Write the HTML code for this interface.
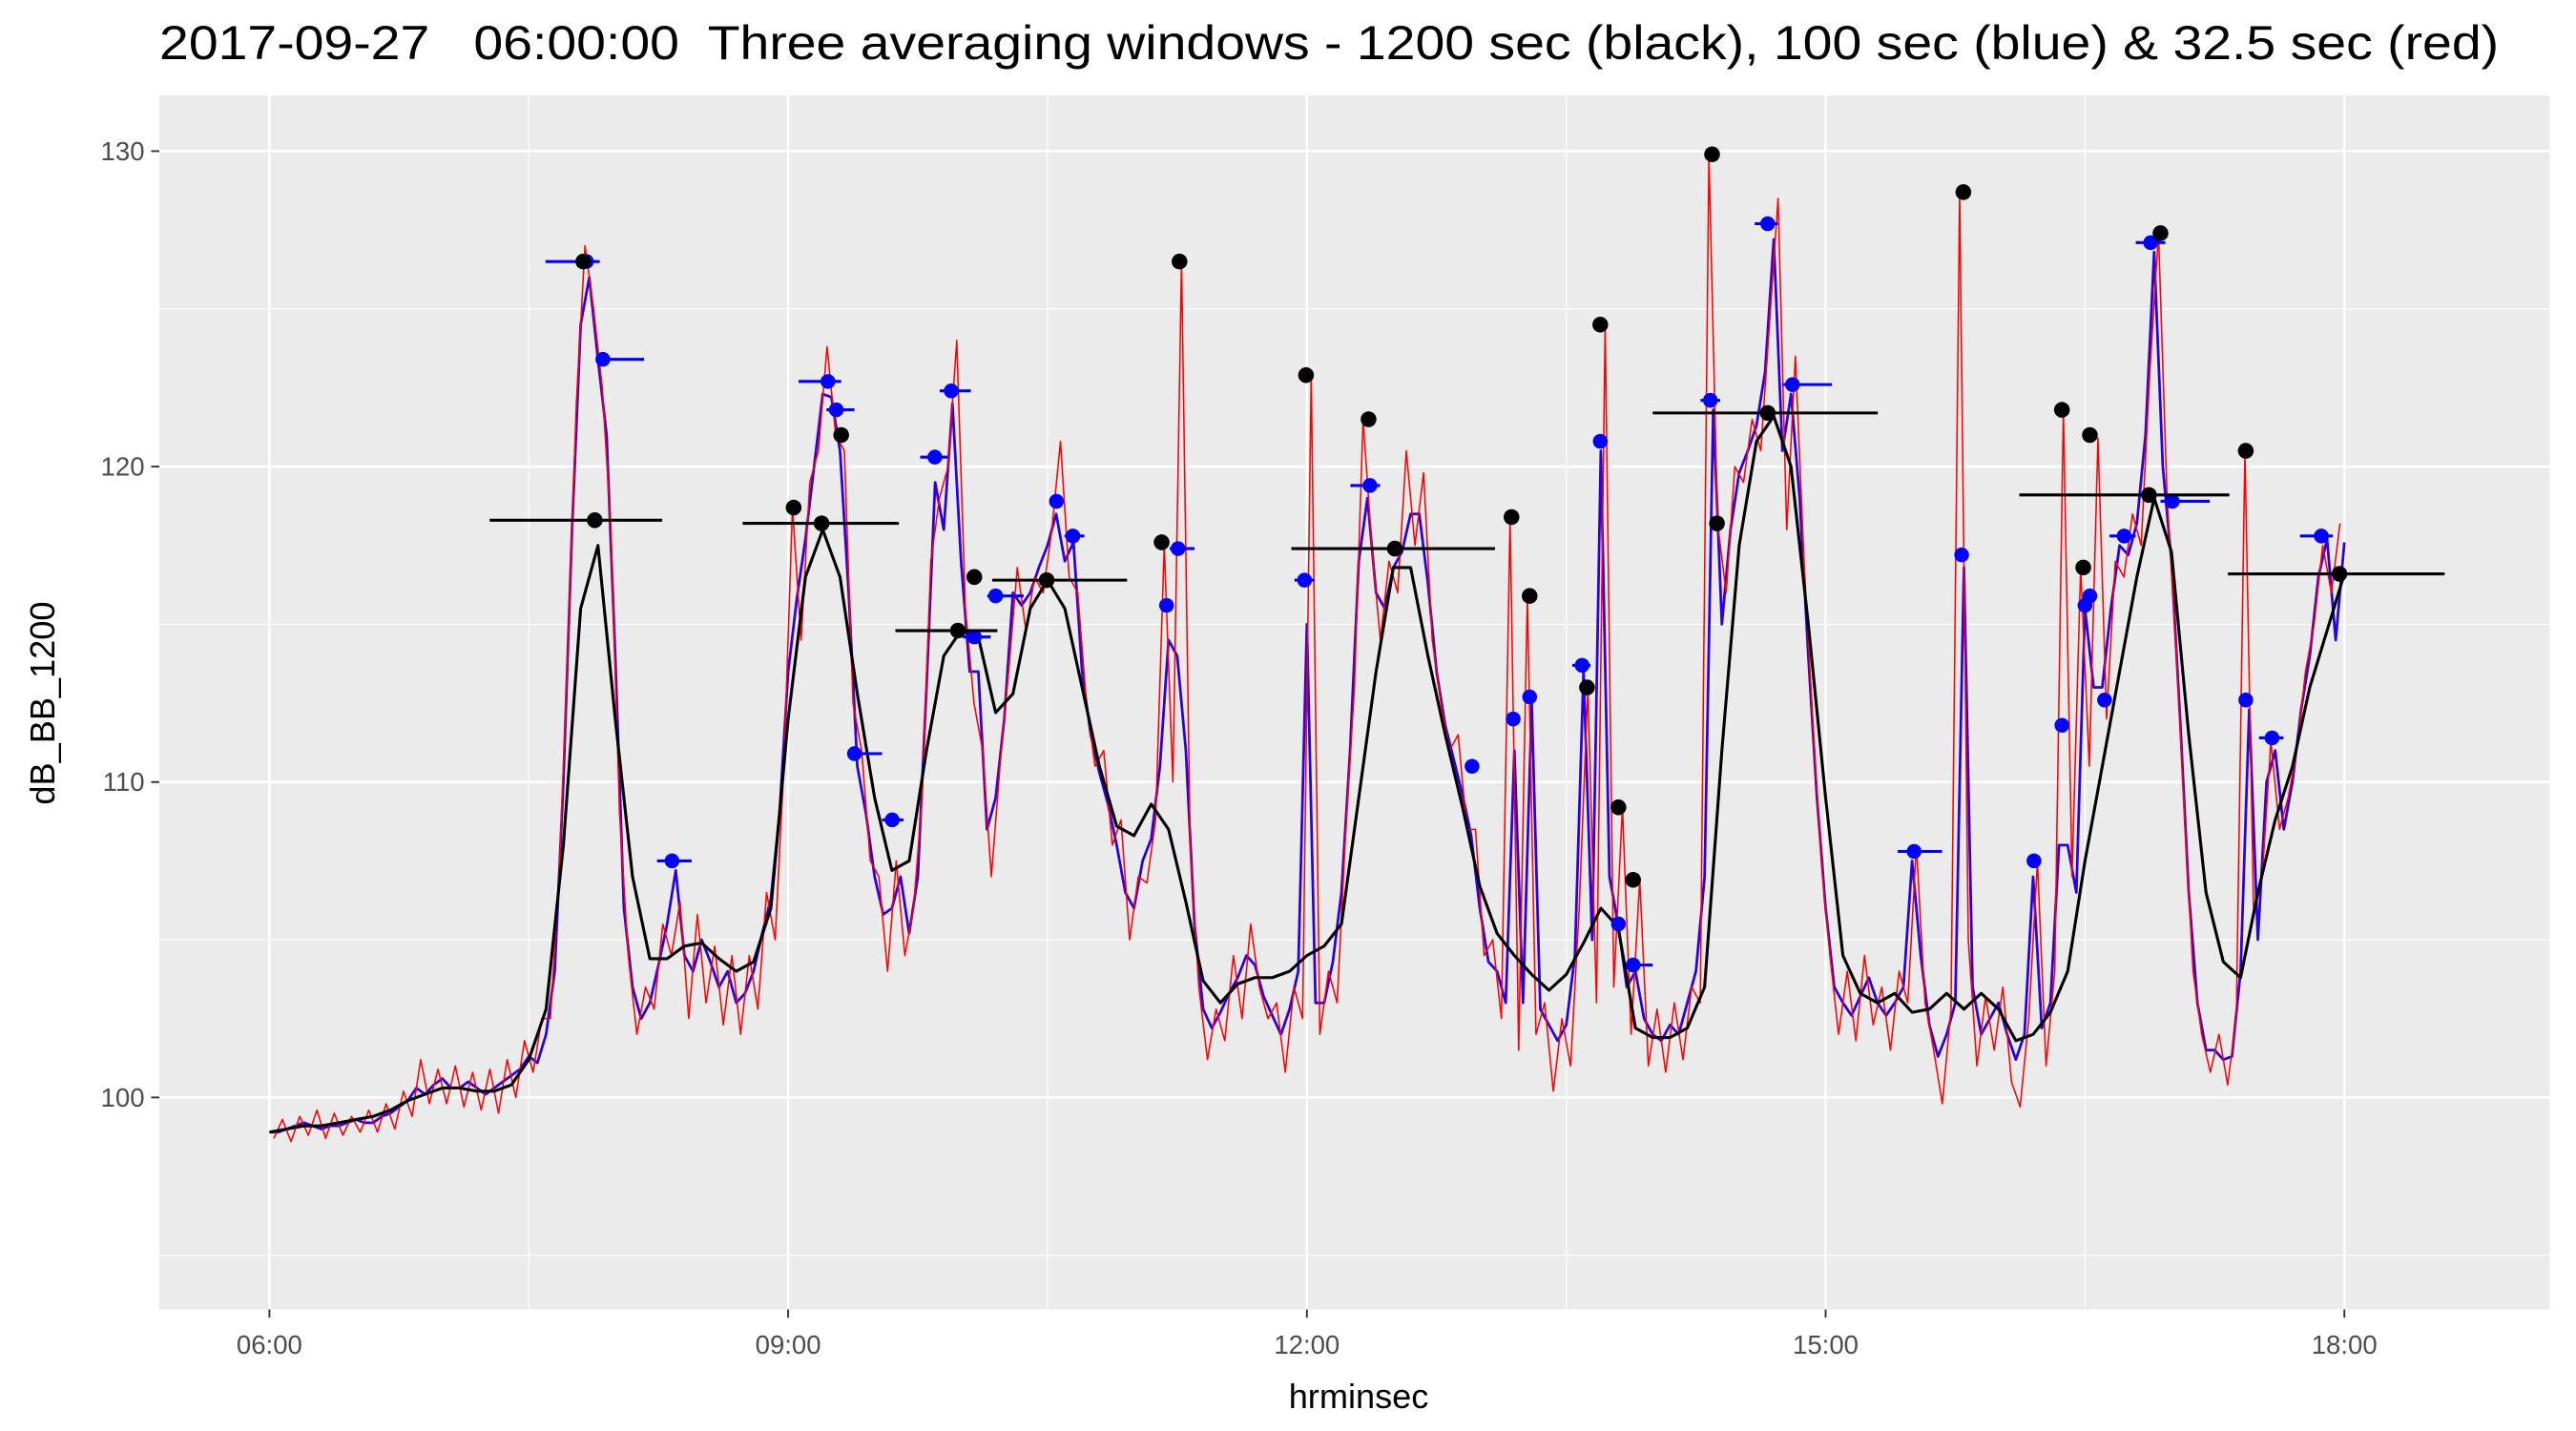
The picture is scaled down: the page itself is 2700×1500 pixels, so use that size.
<!DOCTYPE html>
<html><head><meta charset="utf-8"><style>
html,body{margin:0;padding:0;background:#fff;}
svg{display:block;font-family:"Liberation Sans",Arial,sans-serif;}
</style></head><body>
<svg id="chart" width="2700" height="1500" viewBox="0 0 1568 871" preserveAspectRatio="none" xmlns="http://www.w3.org/2000/svg">
<text x="97" y="36" font-size="29" fill="#000" style="white-space:pre" textLength="1424" lengthAdjust="spacingAndGlyphs">2017-09-27   06:00:00  Three averaging windows - 1200 sec (black), 100 sec (blue) &amp; 32.5 sec (red)</text>
<rect x="97" y="58" width="1455" height="739" fill="#ebebeb"/>
<g id="grid"></g>
<g id="series"></g>
<g id="axes"></g>
<text x="827" y="857" font-size="21" text-anchor="middle" fill="#000">hrminsec</text>
<text transform="translate(33,428) rotate(-90)" font-size="21" text-anchor="middle" fill="#000">dB_BB_1200</text>
</svg>
<script>
// minutes after 06:00
const blueStep = 3, blueStart = 0;
const blueValues = [98.9,98.9,99.0,99.1,99.2,99.1,99.0,99.1,99.1,99.2,99.3,99.2,99.2,99.4,99.5,99.7,99.9,100.3,100.1,100.4,100.6,100.3,100.3,100.5,100.3,100.1,100.3,100.5,100.7,100.9,101.3,101.1,102,104,110,118,124.5,126,123.4,121,114,106,103.5,102.5,103,104.2,105.5,107.2,104.5,104,105,104.3,103.5,104,103,103.3,104,105.2,106.3,109,113.5,115.8,117.7,120,122.3,122.2,120.5,116,110.5,109,107,105.8,106,107,105.2,107,113,119.5,118,122,117,113.5,113.5,108.5,109.5,112,116,115.6,116,116.8,117.5,118.5,117,117.6,113.5,111.5,110.3,109.3,108,106.5,106,107.5,108.2,110.5,114.5,114,111,105.5,102.8,102.2,102.7,103.3,103.8,104.5,104.2,103.2,102.6,102,102.8,104,115,103,103,104.3,106.5,111,117,119,116,115.5,116.8,117.3,118.5,118.5,116.3,113.5,111.8,110.7,109.6,108.3,106,104.3,104,103,111,103,112.5,102.8,102.3,101.8,102.3,104.5,113.5,105,120.5,107,105.5,103.5,104,102.5,102,101.8,102.3,102,103,104,107,121.8,115,118,119.8,120.5,121.3,123,127.2,120.5,122.3,119,114,109.5,106,103.5,103,102.6,103.2,103.8,103,102.6,103,103.5,107.5,104.5,102.3,101.3,102,103,116.8,103.5,102,102.5,103,102,101.2,102,107,102.2,103,108,108,106.5,115.5,113,113,115.5,117.5,117.2,118.2,121,126.8,120,117,112,106.5,103,101.5,101.5,101.2,101.3,104,112.3,105,110,111,108.5,110,112.3,114,116.5,117.7,114.5,117.6];
const redStep = 3, redStart = 1.5;
const redValues = [98.7,99.3,98.6,99.4,98.8,99.6,98.7,99.5,98.8,99.4,98.9,99.6,98.9,99.8,99.0,100.2,99.4,101.2,99.8,100.9,99.8,101,99.7,100.8,99.6,100.9,99.5,101.2,100.0,101.8,100.8,102.5,102.5,107,114,122,127,125,122.5,118,109,104.5,102,103.5,102.8,105.5,104.5,106.2,102.5,105.8,103,104.8,102.3,104.5,102,104.5,102.8,106.5,105,110.5,118.7,114.5,119.5,120.5,123.8,121,120.5,112.5,111,107.5,107,104,107.5,104.5,106,109.5,117,119,120,124,115.5,112.5,111,107,110.5,113.5,116.8,114.8,116.5,116,118,120.8,116.5,116,112.5,110.5,111,108,108.8,105,107,106.8,108.8,117.5,110,126.5,108,103.5,101.2,102.8,101.8,104.5,102.5,105.5,103.5,102.5,103,100.8,103.5,102.5,122.9,102,104,103,108.5,113,121.5,117.5,114.5,117,116,120.5,117.5,119.8,114.5,112.5,111,111.5,108.5,108.5,104.5,105,102.5,118.4,101.5,115.9,102,103,100.2,102.5,101,106,113,103,124.5,103.5,109.2,102,106.9,101,102.8,100.8,103,101.2,103.5,103,129.9,118.2,116,120,119.5,121.5,120.5,124.5,128.5,118,123.5,117,112,107.5,104.5,102,104,101.8,104.5,102.3,103.5,101.5,104,103,108,103,101.5,99.8,102.8,128.7,105,101,103.2,101.5,103.5,100.5,99.7,102.5,107.5,101,104,121.8,107,116.8,110.5,120.9,112,117,116.5,118.5,117.5,123,127.4,119,114.5,109,104,102,100.8,102,100.4,102.5,120.5,106,107,111.3,108.5,109.5,111,113.5,115,117.5,116,118.2];
const blackStep = 6, blackStart = 0;
const blackValues = [98.9,99.0,99.1,99.1,99.2,99.3,99.4,99.6,99.9,100.1,100.3,100.3,100.2,100.2,100.4,101.2,102.8,108,115.5,117.5,112,107,104.4,104.4,104.8,104.9,104.4,104,104.3,106,112,116.5,118,116.5,112.8,109.5,107.2,107.5,111,114,114.8,114.6,112.2,112.8,115.5,116.4,115.5,113,110.5,108.6,108.3,109.3,108.5,106.2,103.7,103,103.6,103.8,103.8,104,104.5,104.8,105.5,109.5,113.5,116.8,116.8,114,111.5,109.2,106.7,105.2,104.5,103.9,103.4,103.9,104.9,106,105.4,102.2,101.9,101.9,102.2,103.5,111,117.5,120.8,121.6,120,115,109.5,104.5,103.3,103,103.3,102.7,102.8,103.3,102.8,103.3,102.8,101.8,102,102.7,104,107.5,110.5,113.5,116.5,119,117.3,111.5,106.5,104.3,103.8,106.5,108.8,110.5,113,114.8,116.6];
const blackDotTimes = [108.9,112.9,181.9,191.6,198.4,238.9,244.6,269.7,309.6,315.8,359.7,381.4,390.5,431,437.3,457.2,461.8,468.1,473.2,500.6,502.3,519.9,587.8,622,629.4,631.7,652.2,656.2,685.8,718.3];
const blackDotValues = [126.5,118.3,118.7,118.2,121,114.8,116.5,116.4,117.6,126.5,122.9,121.5,117.4,118.4,115.9,113,124.5,109.2,106.9,129.9,118.2,121.7,128.7,121.8,116.8,121,119.1,127.4,120.5,116.6];
const blackSegStart = [76.4,164.2,217.2,250.8,354.6,480,607.2,679.6];
const blackSegEnd = [136.3,218.4,252.6,297.6,425.3,558.1,680.1,754.8];
const blackSegValues = [118.3,118.2,114.8,116.4,117.4,121.7,119.1,116.6];
const blueDotTimes = [110,115.7,139.7,193.8,196.7,203,216.1,230.9,236.6,244.6,252,273.1,278.8,311.3,315.3,359.2,381.9,417.3,431.6,437.3,455.5,461.8,468.1,473.2,500,519.9,528.5,570.7,587.2,612.3,622,630,631.7,636.8,643.6,652.8,660.3,685.8,694.9,712];
const blueDotValues = [126.5,123.4,107.5,122.7,121.8,110.9,108.8,120.3,122.4,114.6,115.9,118.9,117.8,115.6,117.4,116.4,119.4,110.5,112,112.7,113.7,120.8,105.5,104.2,122.1,127.7,122.6,107.8,117.2,107.5,111.8,115.6,115.9,112.6,117.8,127.1,118.9,112.6,111.4,117.8];
const blueSegStart = [95.8,113.4,134.5,183.6,193.3,200.7,212.6,225.8,232.6,240.6,249.1,273.1,275.9,311.3,312.4,355.7,375.1,417.3,431.6,437.3,452.1,461.8,468.1,470.9,496.6,515.4,525.1,565,587.2,612.3,622,630,631.7,636.8,638.5,647.6,656.2,685.8,690.4,704.6];
const blueSegEnd = [114.6,130,146.5,198.4,203,212.6,220,235.4,243.4,250.3,261.7,273.1,282.8,311.3,321,362.6,385.4,417.3,431.6,437.3,458.4,461.8,468.1,480,503.4,523.4,542.2,580.4,587.2,612.3,622,630,631.7,636.8,647.6,657.9,673.3,685.8,698.9,716];
const xTickLabels = ["06:00","09:00","12:00","15:00","18:00"];
const xTickMinutes = [0,180,360,540,720];
const yTickValues = [100,110,120,130];

const NS="http://www.w3.org/2000/svg";
const X0=164, PXMIN=105.25/60;
function xs(m){return X0+m*PXMIN;}
function ys(v){return 668-(v-100)*19.2;}
function mk(tag,attrs,parent){const e=document.createElementNS(NS,tag);for(const k in attrs)e.setAttribute(k,attrs[k]);parent.appendChild(e);return e;}
const grid=document.getElementById('grid'), ser=document.getElementById('series'), axes=document.getElementById('axes');
for(let i=0;i<xTickMinutes.length-1;i++){const m=(xTickMinutes[i]+xTickMinutes[i+1])/2;const l=mk('line',{x1:xs(m),x2:xs(m),y1:58,y2:797,stroke:'#fff','stroke-width':0.7},grid);

}
for(let i=0;i<yTickValues.length;i++){const v=yTickValues[i]-5;const l=mk('line',{x1:97,x2:1552,y1:ys(v),y2:ys(v),stroke:'#fff','stroke-width':0.7},grid);

}
xTickMinutes.forEach((m,i)=>{const l=mk('line',{x1:xs(m),x2:xs(m),y1:58,y2:797,stroke:'#fff','stroke-width':1.4},grid);


const t=mk('line',{x1:xs(m),x2:xs(m),y1:797,y2:802,stroke:'#333','stroke-width':1.1},axes);


const tx=mk('text',{x:xs(m),y:824,'font-size':16,'text-anchor':'middle',fill:'#4d4d4d'},axes);tx.textContent=xTickLabels[i];

});
yTickValues.forEach(v=>{const l=mk('line',{x1:97,x2:1552,y1:ys(v),y2:ys(v),stroke:'#fff','stroke-width':1.4},grid);


const t=mk('line',{x1:92,x2:97,y1:ys(v),y2:ys(v),stroke:'#333','stroke-width':1.1},axes);


const tx=mk('text',{x:88,y:ys(v)+5.5,'font-size':16,'text-anchor':'end',fill:'#4d4d4d'},axes);tx.textContent=v;

});
function line(vals,start,step,color,w,name){const pts=vals.map((v,i)=>xs(start+i*step).toFixed(2)+','+ys(v).toFixed(2)).join(' ');
const p=mk('polyline',{points:pts,fill:'none',stroke:color,'stroke-width':w,'stroke-linejoin':'round'},ser);

}
line(blueValues,blueStart,blueStep,'#2a00e0',1.6,'blue-line-100s');
line(redValues,redStart,redStep,'#ff0000',0.9,'red-line-32s');
line(blackValues,blackStart,blackStep,'#000',1.8,'black-line-1200s');
blueDotTimes.forEach((m,i)=>{const v=blueDotValues[i];
if(blueSegEnd[i]>blueSegStart[i]){const s=mk('line',{x1:xs(blueSegStart[i]),x2:xs(blueSegEnd[i]),y1:ys(v),y2:ys(v),stroke:'#0000ff','stroke-width':1.8},ser);

}
const c=mk('circle',{cx:xs(m),cy:ys(v),r:4.5,fill:'#0000ff'},ser);

});
blackSegValues.forEach((v,i)=>{const s=mk('line',{x1:xs(blackSegStart[i]),x2:xs(blackSegEnd[i]),y1:ys(v),y2:ys(v),stroke:'#000','stroke-width':1.8},ser);

});
blackDotTimes.forEach((m,i)=>{const c=mk('circle',{cx:xs(m),cy:ys(blackDotValues[i]),r:4.8,fill:'#000'},ser);

});
</script>
</body></html>
